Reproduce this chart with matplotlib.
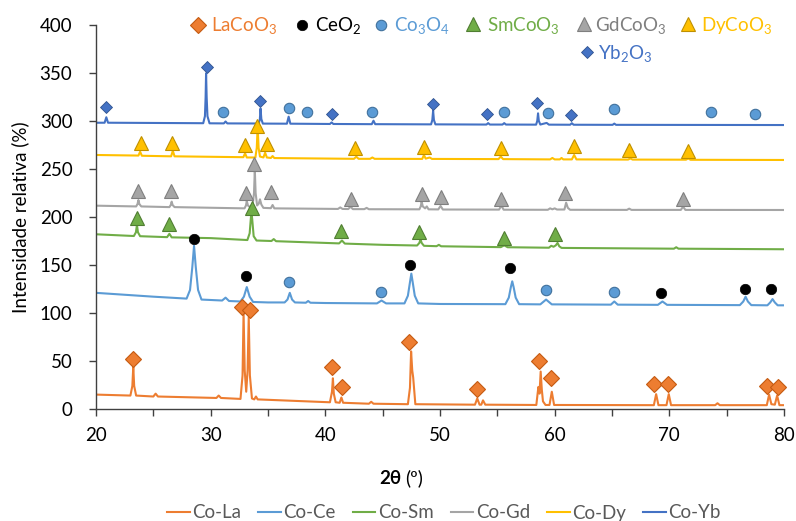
import matplotlib
matplotlib.use("Agg")
import matplotlib.pyplot as plt
from matplotlib.ticker import MultipleLocator
from matplotlib.lines import Line2D

plt.rcParams["font.family"] = ["Lato", "DejaVu Sans"]
plt.rcParams["mathtext.fontset"] = "custom"
plt.rcParams["mathtext.rm"] = "Lato"
plt.rcParams["mathtext.it"] = "Lato:italic"
plt.rcParams["mathtext.bf"] = "Lato:bold"

# ---- diffraction patterns (2θ in degrees, relative intensity in %) ----
la_x = [20, 23.0, 23.17, 23.25, 23.33, 23.5, 25.0, 25.2, 25.4, 30.5, 30.7, 30.9,
        32.6, 32.78, 32.87, 32.97, 33.1, 33.22, 33.32, 33.42, 33.6, 33.8, 33.95, 34.1,
        40.4, 40.58, 40.66, 40.74, 40.9, 41.25, 41.4, 41.55, 43.8, 44.0, 44.2,
        47.2, 47.38, 47.48, 47.58, 47.66, 47.85, 53.05, 53.25, 53.45, 53.6, 53.75, 53.95,
        58.4, 58.58, 58.68, 58.78, 58.88, 58.98, 59.2, 59.55, 59.75, 59.95,
        68.65, 68.85, 69.05, 69.75, 69.95, 70.15, 74.0, 74.2, 74.4,
        78.5, 78.7, 78.9, 79.2, 79.4, 79.6, 80]
la_y = [15, 14, 24, 44, 24, 14, 13, 16, 13, 11.5, 14, 11.5,
        10.5, 35, 100, 40, 18, 40, 96, 35, 11, 10, 13, 10,
        7, 18, 32, 16, 7, 6.5, 12, 6.5, 5.5, 7.5, 5.5,
        5, 22, 60, 40, 33, 5, 4.5, 11, 4.5, 4.5, 9, 4.5,
        4.2, 23, 16, 39, 20, 8, 4.2, 4.2, 18, 4.2,
        4, 15.5, 4, 4, 15.5, 4, 4, 6, 4,
        4, 15, 5, 4.5, 14, 4, 4]

ce_x = [20, 25, 27.9, 28.2, 28.4, 28.55, 28.7, 28.9, 29.2, 31.0, 31.3, 31.6,
        32.6, 32.9, 33.15, 33.4, 33.7, 35, 36.45, 36.7, 36.9, 37.1, 37.35,
        38.3, 38.5, 38.7, 40, 44.5, 44.9, 45.3, 46.9, 47.2, 47.38, 47.5, 47.62, 47.8, 48.1,
        50, 55.7, 56.0, 56.18, 56.3, 56.42, 56.6, 56.9, 58.75, 59.05, 59.25, 59.45, 59.75,
        64.9, 65.2, 65.5, 69.0, 69.4, 69.8, 76.15, 76.45, 76.65, 76.85, 77.15,
        78.55, 78.8, 79.0, 79.2, 79.45, 80]
ce_y = [121, 117, 115, 124, 148, 170, 148, 124, 114, 113, 116, 112.5,
        112, 117, 127, 117, 111.5, 111, 111, 114, 121, 114, 111,
        110.7, 112.5, 110.7, 110.4, 110, 113, 110, 110, 118, 132, 141, 132, 118, 110,
        109.4, 109.2, 116, 127, 133, 127, 116, 109.2, 109, 112, 114, 112, 109,
        108.7, 112, 108.7, 108.5, 112, 108.5, 108.2, 112, 117, 112, 108.2,
        108, 111, 114.5, 111, 108, 108]

sm_x = [20, 23.3, 23.48, 23.57, 23.66, 23.85, 26.2, 26.4, 26.6, 30, 33.2, 33.4, 33.5,
        33.55, 33.62, 33.75, 34.0, 35.3, 35.5, 35.7, 40, 41.2, 41.45, 41.7, 45,
        48.0, 48.2, 48.3, 48.4, 48.6, 49.7, 49.9, 50.1, 55.3, 55.6, 55.9,
        59.5, 59.7, 59.9, 60.1, 60.25, 60.4, 60.6, 70.4, 70.6, 70.8, 80]
sm_y = [182, 180.2, 184, 191.7, 184, 180, 179, 182.5, 178.8, 178, 176, 183, 198,
        205.5, 198, 180, 175.5, 175, 177, 174.8, 173, 172.5, 175.5, 172.3, 171,
        170.3, 173, 176.8, 173, 170, 169.6, 171, 169.5, 168.6, 170.5, 168.5,
        168, 170, 169, 170.5, 173, 169.5, 167.8, 167, 168.5, 167, 166.4]

gd_x = [20, 23.5, 23.62, 23.7, 23.78, 23.95, 26.4, 26.52, 26.6, 26.68, 26.85,
        32.95, 33.08, 33.15, 33.25, 33.45, 33.65, 33.78, 33.85, 33.92, 34.05,
        34.2, 34.3, 34.42, 34.6, 35.25, 35.4, 35.55, 41.1, 41.3, 41.5, 42.0, 42.2, 42.4,
        43.4, 43.6, 43.8, 48.2, 48.32, 48.4, 48.5, 48.7, 48.85, 49.0,
        49.85, 50.05, 50.25, 55.15, 55.35, 55.55, 59.4, 59.6, 59.8, 60.0, 60.2,
        60.85, 61.0, 61.15, 61.35, 66.3, 66.5, 66.7, 71.0, 71.2, 71.4, 80]
gd_y = [211.8, 211, 213.5, 217.7, 213.5, 211, 210.3, 212.5, 216, 212.5, 210.3,
        209, 212, 216.7, 212, 210, 211, 225, 249, 225, 212,
        214, 218.4, 213, 209.5, 209.2, 212.5, 209, 208.4, 210, 208.4, 208.3, 210.7, 208.2,
        208.2, 209.5, 208.1, 208, 211, 216, 211, 209, 211, 208,
        207.9, 211.5, 207.8, 207.7, 211.8, 207.6, 207.5, 209, 208, 209, 207.8,
        207.8, 214.9, 209.5, 207.5, 207.4, 208.7, 207.4, 207.4, 210.7, 207.4, 207.3]

dy_x = [20, 23.7, 23.85, 24.0, 26.55, 26.7, 26.85, 32.85, 33.0, 33.15,
        33.9, 34.02, 34.1, 34.18, 34.3, 34.6, 34.75, 34.9, 35.25, 35.4, 35.55,
        42.5, 42.7, 42.9, 43.9, 44.1, 44.3, 48.45, 48.6, 48.75, 49.1, 49.3,
        55.1, 55.3, 55.5, 59.6, 59.8, 60.0, 60.45, 60.6, 60.75, 61.5, 61.7, 61.9,
        66.4, 66.6, 66.8, 71.45, 71.65, 71.85, 80]
dy_y = [264.6, 264, 268, 263.8, 263.2, 269, 263.2, 262.3, 266.4, 262,
        262, 272, 294, 272, 263, 262, 267, 262, 261.5, 263.5, 261.4,
        260.6, 262.8, 260.6, 260.6, 262, 260.6, 260.5, 264.6, 260.8, 262, 260.5,
        260.3, 263, 260.3, 260, 261.5, 260, 260, 261.5, 260, 260, 264.6, 260,
        259.8, 261, 259.8, 259.7, 261, 259.6, 259.4]

yb_x = [20, 20.75, 20.9, 21.05, 29.35, 29.5, 29.56, 29.6, 29.65, 29.72, 29.9,
        31.15, 31.3, 31.45, 34.2, 34.29, 34.35, 34.42, 34.55, 36.65, 36.8, 36.95,
        40.4, 40.55, 40.7, 44.05, 44.2, 44.35, 49.22, 49.33, 49.4, 49.47, 49.6,
        54.05, 54.2, 54.35, 55.45, 55.6, 55.75, 58.38, 58.48, 58.55, 58.62, 58.75,
        59.3, 59.5, 61.35, 61.5, 61.65, 65.05, 65.2, 65.35, 80]
yb_y = [298.2, 298.2, 303.9, 298.2, 297.7, 305, 325, 349.7, 325, 305, 297.6,
        297.5, 299.5, 297.5, 297.4, 302, 313, 302, 297.3, 297.2, 304.5, 297.2,
        296.9, 298.5, 296.9, 296.7, 300.3, 296.7, 296.5, 301, 310.7, 301, 296.5,
        296.3, 297.8, 296.3, 296.3, 297.8, 296.3, 296.2, 300, 308, 300, 296.3,
        298, 296.2, 296.1, 297.7, 296.1, 296, 297.3, 296, 295.8]

series_names = ["Co-La", "Co-Ce", "Co-Sm", "Co-Gd", "Co-Dy", "Co-Yb"]
series_x = [la_x, ce_x, sm_x, gd_x, dy_x, yb_x]
series_y = [la_y, ce_y, sm_y, gd_y, dy_y, yb_y]
series_colors = ["#ED7D31", "#5B9BD5", "#70AD47", "#A5A5A5", "#FFC000", "#4472C4"]

# ---- phase identification markers (2θ, intensity) ----
lacoo3_x = [23.25, 32.7, 33.4, 40.55, 41.45, 47.3, 53.25, 58.67, 59.7, 68.7, 69.9, 78.5, 79.5]
lacoo3_y = [52.1, 106.6, 103.1, 44.1, 22.6, 70.1, 20.8, 50.3, 32.6, 25.7, 25.7, 24, 22.6]

ceo2_x = [28.55, 33.1, 47.35, 56.1, 69.3, 76.6, 78.9]
ceo2_y = [177.1, 138.9, 150, 147.2, 120.5, 125, 125]

co3o4_x = [36.8, 44.85, 59.25, 65.2, 31.1, 36.8, 38.4, 44.05, 55.6, 59.4, 65.2, 73.6, 77.45]
co3o4_y = [132.3, 121.9, 124, 121.9, 309.7, 313.9, 309, 309.7, 309, 308, 312.2, 309, 307]

smcoo3_x = [23.57, 26.4, 33.6, 41.4, 48.2, 55.6, 60.05]
smcoo3_y = [199.3, 192.4, 209.7, 185.4, 184, 178.4, 182.6]

gdcoo3_x = [23.7, 26.5, 33.1, 33.8, 35.3, 42.2, 48.4, 50.1, 55.3, 60.9, 71.2]
gdcoo3_y = [227, 227, 224.7, 255.5, 225.7, 219, 223.6, 220.5, 218.4, 224.7, 219]

dycoo3_x = [23.9, 26.6, 32.96, 34.06, 34.9, 42.6, 48.6, 55.3, 61.7, 66.5, 71.65]
dycoo3_y = [277.4, 277.4, 275, 294.8, 276, 271.6, 273.2, 271.6, 274, 269.8, 269]

yb2o3_x = [20.85, 29.7, 34.3, 40.55, 49.35, 54.1, 58.5, 61.45]
yb2o3_y = [314.3, 356, 321, 307.3, 317.7, 307, 318.4, 306.3]

phase_labels = ["LaCoO$_3$", "CeO$_2$", "Co$_3$O$_4$", "SmCoO$_3$", "GdCoO$_3$", "DyCoO$_3$", "Yb$_2$O$_3$"]
phase_x = [lacoo3_x, ceo2_x, co3o4_x, smcoo3_x, gdcoo3_x, dycoo3_x, yb2o3_x]
phase_y = [lacoo3_y, ceo2_y, co3o4_y, smcoo3_y, gdcoo3_y, dycoo3_y, yb2o3_y]
phase_style = [
    dict(marker="D", ms=8.5, mfc="#ED7D31", mec="#C55A11", mew=0.8),
    dict(marker="o", ms=7.5, mfc="#000000", mec="#000000", mew=0.5),
    dict(marker="o", ms=7.5, mfc="#5B9BD5", mec="#41719C", mew=0.8),
    dict(marker="^", ms=9.5, mfc="#70AD47", mec="#507E32", mew=0.8),
    dict(marker="^", ms=9.5, mfc="#A5A5A5", mec="#7F7F7F", mew=0.8),
    dict(marker="^", ms=9.5, mfc="#FFC000", mec="#BF9000", mew=0.8),
    dict(marker="D", ms=6, mfc="#4472C4", mec="#2F528F", mew=0.6),
]
phase_text_colors = ["#ED7D31", "#000000", "#5B9BD5", "#70AD47", "#7F7F7F", "#FFC000", "#4472C4"]

W, H = 796, 521
fig = plt.figure(figsize=(W / 100, H / 100), dpi=100)
ax = fig.add_axes([96 / W, 1 - 409 / H, (784 - 96) / W, (409 - 25) / H])

for xs, ys, c, name in zip(series_x, series_y, series_colors, series_names):
    ax.plot(xs, ys, color=c, lw=1.5, label=name, solid_joinstyle="round", zorder=2)

for xs, ys, st in zip(phase_x, phase_y, phase_style):
    ax.plot(xs, ys, ls="none", zorder=4, clip_on=False, **st)

ax.set_xlim(20, 80)
ax.set_ylim(0, 400)
ax.xaxis.set_major_locator(MultipleLocator(10))
ax.xaxis.set_minor_locator(MultipleLocator(5))
ax.yaxis.set_major_locator(MultipleLocator(50))
ax.tick_params(axis="both", which="both", direction="out", length=5, width=1,
               color="#404040", labelsize=13.5, labelcolor="#000000")
ax.tick_params(axis="x", pad=8)
ax.tick_params(axis="y", pad=12)
for s in ("top", "right"):
    ax.spines[s].set_visible(False)
for s in ("left", "bottom"):
    ax.spines[s].set_color("#404040")
    ax.spines[s].set_linewidth(1.0)


def fx(px):
    return px / W


def fy(py):
    return 1 - py / H


# phase key at the top of the plot
key_items = [
    (198, 25, 211), (302, 25, 315), (381, 25, 394),
    (473, 24, 487), (584, 24, 595), (688, 24, 701), (587, 52, 598),
]
for (mx, my, tx), st, lab, tc in zip(key_items, phase_style, phase_labels, phase_text_colors):
    fig.add_artist(Line2D([fx(mx)], [fy(my)], transform=fig.transFigure, ls="none", **st))
    fig.text(fx(tx), fy(my + 1), lab, color=tc, fontsize=13.5, ha="left", va="center")

# axis titles
fig.text(fx(401), fy(478), "2θ", fontsize=13.5, fontweight="bold", ha="right", va="center",
         family=["Lato", "DejaVu Sans"])
fig.text(fx(405), fy(478), "(º)", fontsize=13.5, ha="left", va="center")
fig.text(fx(20), fy(217), "Intensidade relativa (%)", fontsize=13.5, rotation=90,
         ha="center", va="center")

leg = fig.legend(*ax.get_legend_handles_labels(), loc="center", ncol=6,
                 bbox_to_anchor=(fx(444), fy(513)), frameon=False, fontsize=13.5,
                 handlelength=1.2, handletextpad=0.15, columnspacing=0.9)
for t in leg.get_texts():
    t.set_color("#595959")

fig.savefig("out.png", dpi=100)
